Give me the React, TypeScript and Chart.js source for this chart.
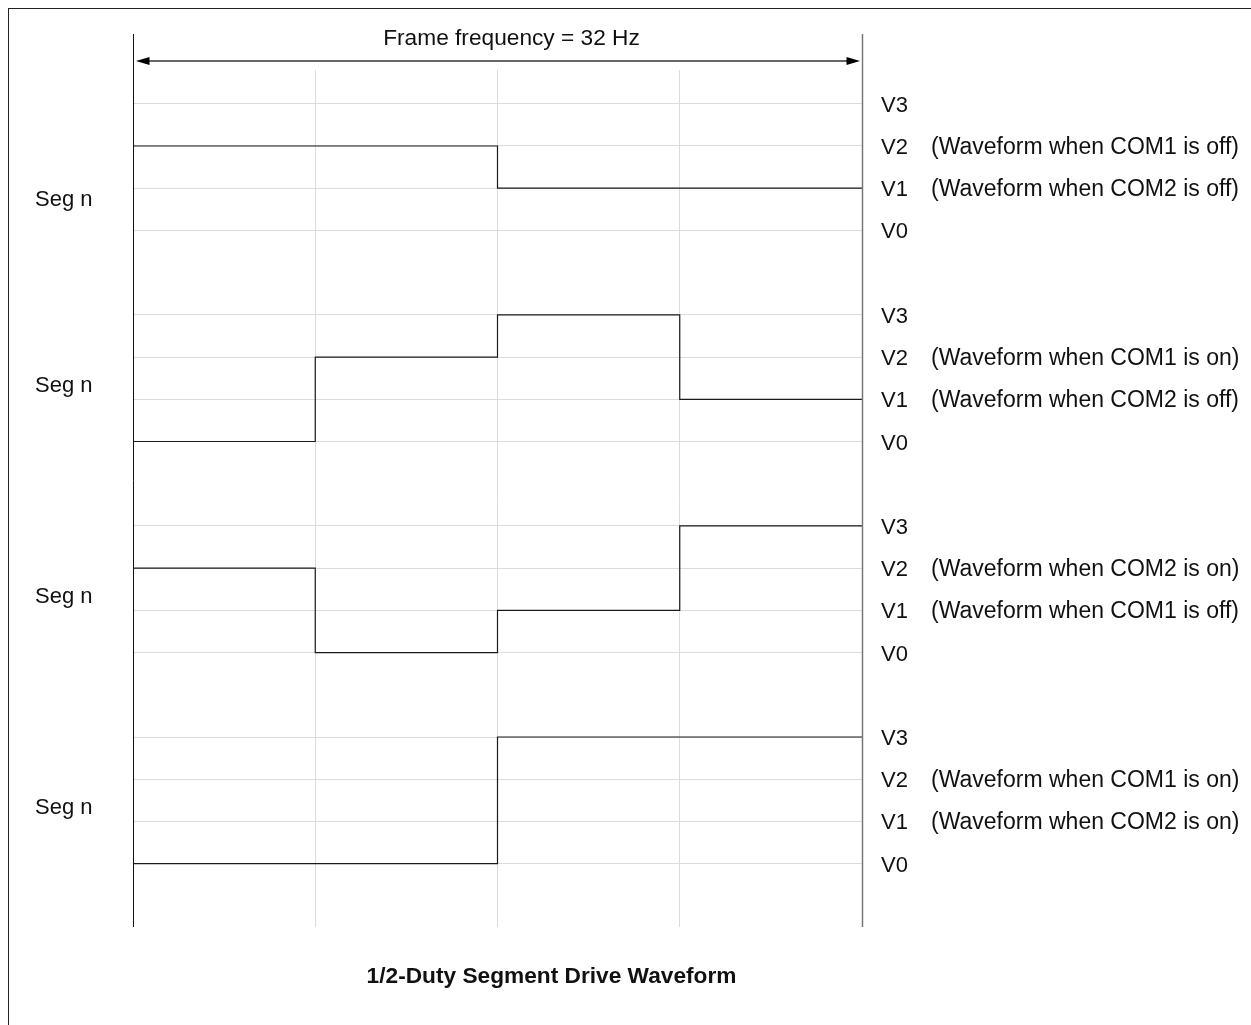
import React, { useEffect, useRef } from "react";
import { Chart, registerables } from "chart.js";

Chart.register(...registerables);

// ---- data ----
const GROUP_LABELS = ["Seg n", "Seg n", "Seg n", "Seg n"];
const LEVEL_NAMES = ["V0", "V1", "V2", "V3"];
// y value of the V0 level of each group (top group first)
const GROUP_BASE = [15, 10, 5, 0];
// time ticks across one frame (quarters)
const FRAME_TIME = [0, 1, 2, 3, 4];
// level index held during each quarter of the frame, per group
const WAVE_G1 = [2, 2, 1, 1];
const WAVE_G2 = [0, 2, 3, 1];
const WAVE_G3 = [2, 0, 1, 3];
const WAVE_G4 = [0, 0, 3, 3];
const WAVES = [WAVE_G1, WAVE_G2, WAVE_G3, WAVE_G4];
const NOTES_V2 = [
  "(Waveform when COM1 is off)",
  "(Waveform when COM1 is on)",
  "(Waveform when COM2 is on)",
  "(Waveform when COM1 is on)",
];
const NOTES_V1 = [
  "(Waveform when COM2 is off)",
  "(Waveform when COM2 is off)",
  "(Waveform when COM1 is off)",
  "(Waveform when COM2 is on)",
];
const TOP_LABEL = "Frame frequency = 32 Hz";
const TITLE = "1/2-Duty Segment Drive Waveform";

const LEVEL_VALUES: number[] = [];
GROUP_BASE.forEach((b) => LEVEL_NAMES.forEach((_, i) => LEVEL_VALUES.push(b + i)));

const FONT = '"Liberation Sans", Arial, Helvetica, sans-serif';

const overlay = {
  id: "overlay",
  afterDraw(chart: any) {
    const { ctx, chartArea: ca, scales } = chart;
    const x = scales.x;
    const y = scales.y;
    const x0 = x.getPixelForValue(FRAME_TIME[0]);
    const x4 = x.getPixelForValue(FRAME_TIME[FRAME_TIME.length - 1]);
    const ax0 = Math.floor(x0) + 0.5;
    const ax4 = Math.floor(x4) + 0.5;
    const lineTop = ca.top - 36;
    ctx.save();

    // axis lines
    ctx.lineWidth = 1;
    ctx.strokeStyle = "#111";
    ctx.beginPath();
    ctx.moveTo(ax0, lineTop);
    ctx.lineTo(ax0, ca.bottom);
    ctx.stroke();
    ctx.lineWidth = 1.5;
    ctx.strokeStyle = "#777";
    ctx.beginPath();
    ctx.moveTo(ax4, lineTop);
    ctx.lineTo(ax4, ca.bottom);
    ctx.stroke();

    // double arrow
    const ay = ca.top - 9;
    ctx.lineWidth = 2;
    ctx.strokeStyle = "#666";
    ctx.beginPath();
    ctx.moveTo(ax0 + 12, ay);
    ctx.lineTo(ax4 - 12, ay);
    ctx.stroke();
    ctx.fillStyle = "#000";
    ctx.beginPath();
    ctx.moveTo(ax0 + 2.5, ay);
    ctx.lineTo(ax0 + 16, ay - 4);
    ctx.lineTo(ax0 + 16, ay + 4);
    ctx.closePath();
    ctx.fill();
    ctx.beginPath();
    ctx.moveTo(ax4 - 2.5, ay);
    ctx.lineTo(ax4 - 16, ay - 4);
    ctx.lineTo(ax4 - 16, ay + 4);
    ctx.closePath();
    ctx.fill();

    ctx.fillStyle = "#111";
    ctx.textBaseline = "alphabetic";

    // top label
    ctx.font = `22.7px ${FONT}`;
    ctx.textAlign = "center";
    ctx.fillText(TOP_LABEL, (x0 + x4) / 2 + 14, ca.top - 25);

    // title
    ctx.font = `bold 22.7px ${FONT}`;
    ctx.fillText(TITLE, (x0 + x4) / 2 + 54, ca.bottom + 56);

    // group labels and level labels
    const segLift = [0.57, 1.18, 1.18, 1.18];
    ctx.textAlign = "left";
    GROUP_BASE.forEach((base, g) => {
      ctx.font = `22px ${FONT}`;
      ctx.fillText(GROUP_LABELS[g], x0 - 98, y.getPixelForValue(base + segLift[g]));
      LEVEL_NAMES.forEach((name, i) => {
        ctx.fillText(name, x4 + 19, y.getPixelForValue(base + i) + 8);
      });
      ctx.font = `23px ${FONT}`;
      ctx.fillText(NOTES_V2[g], x4 + 69, y.getPixelForValue(base + 2) + 8);
      ctx.fillText(NOTES_V1[g], x4 + 69, y.getPixelForValue(base + 1) + 8);
    });

    ctx.restore();
  },
};

export default function App() {
  const ref = useRef<HTMLCanvasElement>(null);
  useEffect(() => {
    const datasets = WAVES.map((wave, g) => ({
      label: GROUP_LABELS[g],
      data: FRAME_TIME.map((t, i) => ({
        x: t,
        y: GROUP_BASE[g] + wave[Math.min(i, wave.length - 1)],
      })),
      stepped: "before" as const,
      borderColor: "#1a1a1a",
      borderWidth: 1.2,
      pointRadius: 0,
      fill: false,
    }));
    const chart = new Chart(ref.current!, {
      type: "line",
      data: { datasets },
      options: {
        animation: false,
        responsive: false,
        devicePixelRatio: 1,
        layout: { padding: { left: 124, right: 389, top: 61, bottom: 98 } },
        plugins: { legend: { display: false }, tooltip: { enabled: false }, title: { display: false } },
        events: [],
        scales: {
          x: {
            type: "linear",
            min: 0,
            max: 4,
            ticks: { display: false, stepSize: 1 },
            grid: { color: "#dcdcdc", lineWidth: 1, drawTicks: false },
            border: { display: false },
          },
          y: {
            type: "linear",
            min: -1.5,
            max: 18.8,
            afterBuildTicks: (scale: any) => {
              scale.ticks = LEVEL_VALUES.map((v) => ({ value: v }));
            },
            ticks: { display: false },
            grid: { color: "#dcdcdc", lineWidth: 1, drawTicks: false },
            border: { display: false },
          },
        },
      },
      plugins: [overlay],
    } as any);
    return () => chart.destroy();
  }, []);
  return (
    <div
      style={{
        position: "fixed",
        left: 8,
        top: 8,
        width: 1300,
        height: 1100,
        borderTop: "1px solid #222",
        borderLeft: "1px solid #222",
        background: "#fff",
      }}
    >
      <canvas ref={ref} width={1242} height={1016} style={{ display: "block", width: 1242, height: 1016 }} />
    </div>
  );
}
